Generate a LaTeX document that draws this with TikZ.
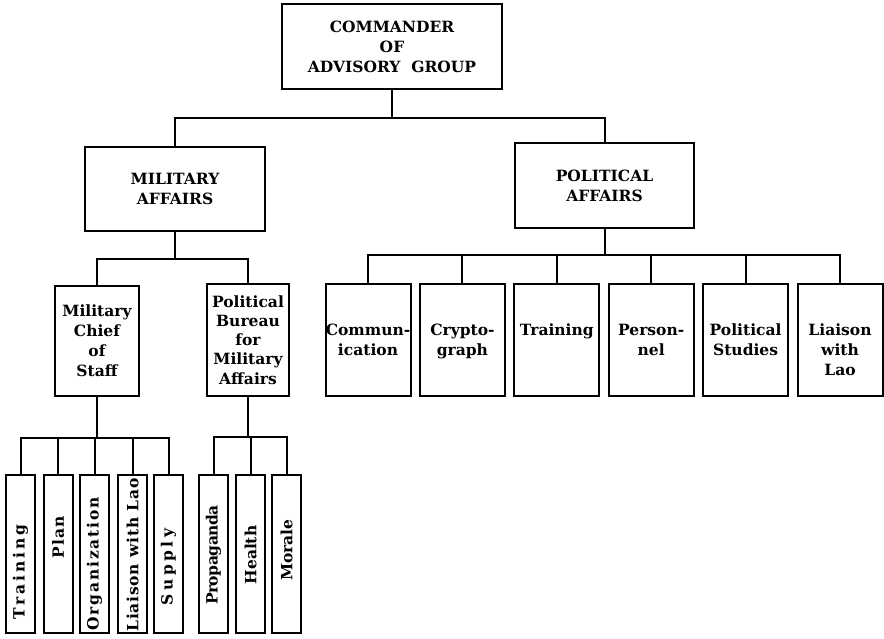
\documentclass[tikz,border=0pt]{standalone}
\usepackage{fontspec}
\setmainfont{DejaVu Serif}
\usetikzlibrary{positioning}

\newcommand{\orgfont}{\bfseries\fontsize{15.5}{20}\selectfont}
\tikzset{
  box/.style={draw, line width=2pt, inner sep=0pt, align=center, font=\orgfont},
  vbox/.style={box, minimum width=29pt, minimum height=158pt},
  sbox/.style={box, minimum width=85pt, minimum height=112pt},
  txt/.style={inner sep=0pt, align=center, font=\orgfont},
  wire/.style={line width=2pt},
}

\begin{document}
\begin{tikzpicture}[x=1pt, y=-1pt]
  \useasboundingbox (0,0) rectangle (884,638);

  % top levels
  \node[box, minimum width=220pt, minimum height=85pt] (cmdr) at (392,46.5) {COMMANDER\\OF\\ADVISORY~~GROUP};
  \node[box, minimum width=180pt, minimum height=84pt] (mil) at (175,189) {MILITARY\\AFFAIRS};
  \node[box, minimum width=179pt, minimum height=85pt] (pol) at (604.5,185.5) {POLITICAL\\AFFAIRS};

  \draw[wire] (cmdr.south) -- (392,118) coordinate (j0);
  \draw[wire] (mil.north) |- (j0) -| (pol.north);

  % military side
  \node[box, minimum width=84pt, minimum height=110pt] (chief) at (97,341) {Military\\Chief\\of\\Staff};
  \node[box, minimum width=82pt, minimum height=112pt, font=\bfseries\fontsize{15.5}{19.2}\selectfont] (bureau) at (248,340) {Political\\Bureau\\for\\Military\\Affairs};
  \draw[wire] (mil.south) -- (175,259) coordinate (j1);
  \draw[wire] (chief.north) |- (j1) -| (bureau.north);

  % vertical boxes: name/x/letter space/shift down/text
  \draw[wire] (chief.south) -- (97,438) coordinate (j2);
  \foreach \nm/\x/\ls/\off/\txt in {tr/20.5/19/18/Training, pl/58/8/-17/Plan, org/94.5/12/10/Organization, lia/132.5/5/1/Liaison with Lao, sup/168.5/23/13/Supply} {
    \node[vbox] (\nm) at (\x,554) {\rotatebox{90}{\hspace*{-\off pt}\addfontfeature{LetterSpace=\ls}\txt\hspace*{\off pt}}};
    \draw[wire] (\nm.north) |- (j2);
  }

  \draw[wire] (bureau.south) -- (248,437) coordinate (j3);
  \foreach \nm/\x/\ls/\off/\txt in {prop/213.5/-3/1/Propaganda, hea/250.5/0/1/Health, mor/286.5/0/-4/Morale} {
    \node[vbox] (\nm) at (\x,554) {\rotatebox{90}{\hspace*{-\off pt}\addfontfeature{LetterSpace=\ls}\txt\hspace*{\off pt}}};
    \draw[wire] (\nm.north) |- (j3);
  }

  % political side
  \draw[wire] (pol.south) -- (604.5,255) coordinate (j4);
  \foreach \nm/\i/\txt in {comm/0/Commun-\\ication, cry/1/Crypto-\\graph, ptr/2/Training, pers/3/Person-\\nel, pst/4/Political\\Studies, plia/5/Liaison\\with\\Lao} {
    \node[sbox] (\nm) at ({368+94.4*\i},340) {};
    \node[txt, below=41pt of \nm.north] (\nm-t) {\txt};
    \draw[wire] (\nm.north) |- (j4);
  }
\end{tikzpicture}
\end{document}
